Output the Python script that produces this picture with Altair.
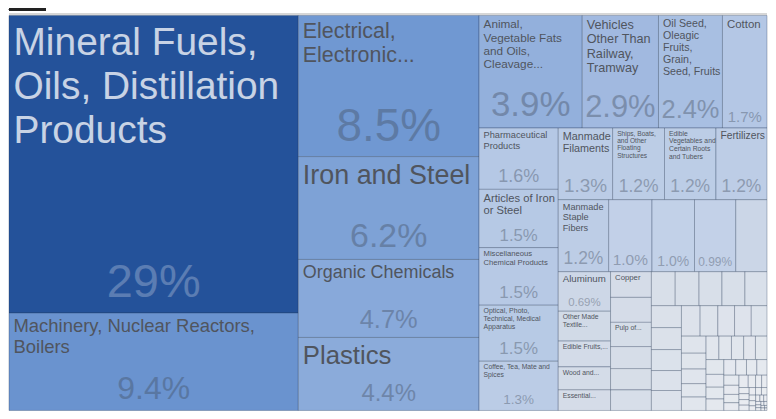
import altair as alt
import pandas as pd

# ---------------- data ----------------
NAMES = [
    "Mineral Fuels,\nOils, Distillation\nProducts",
    "Machinery, Nuclear Reactors,\nBoilers",
    "Electrical,\n Electronic...",
    "Iron and Steel",
    "Organic Chemicals",
    "Plastics",
    "Animal,\nVegetable Fats\nand Oils,\n Cleavage...",
    "Vehicles\nOther Than\nRailway,\nTramway",
    "Oil Seed,\nOleagic\nFruits,\nGrain,\nSeed, Fruits",
    "Cotton",
    "Pharmaceutical\nProducts",
    "Articles of Iron\nor Steel",
    "Miscellaneous\nChemical Products",
    "Optical, Photo,\nTechnical, Medical\nApparatus",
    "Coffee, Tea, Mate and\nSpices",
    "Manmade\nFilaments",
    "Ships, Boats,\nand Other\nFloating\nStructures",
    "Edible\nVegetables and\nCertain Roots\nand Tubers",
    "Fertilizers",
    "Manmade\nStaple\nFibers",
    "", "", "", "",
    "Aluminum",
    "Other Made\n Textile...",
    "Edible Fruits,...",
    "Wood and...",
    "Essential...",
    "Copper",
    "",
    "Pulp of...",
]

# share of total exports, percent
VALUES = [
    28.7, 9.4, 8.5, 6.2, 4.7, 4.4,
    3.87, 2.86, 2.4, 1.67,
    1.62, 1.54, 1.52, 1.48, 1.30,
    1.30, 1.24, 1.23, 1.22,
    1.21, 1.04, 1.02, 0.99, 0.75,
    0.69, 0.52, 0.45, 0.40, 0.36,
    0.35, 0.34, 0.33, 0.30, 0.29, 0.28,
    0.27, 0.27, 0.26, 0.26, 0.25,
    0.22, 0.22, 0.21, 0.20, 0.20,
    0.19, 0.18, 0.17, 0.17, 0.16,
    0.14, 0.13, 0.12, 0.11, 0.11,
    0.10, 0.098, 0.095, 0.092, 0.09,
    0.088, 0.076, 0.070, 0.068, 0.062,
    0.056, 0.054, 0.053, 0.051,
    0.046, 0.042, 0.039, 0.038,
    0.03, 0.025, 0.022, 0.021, 0.02, 0.019, 0.018, 0.016, 0.015, 0.014,
    0.012, 0.011, 0.01, 0.009, 0.008, 0.007, 0.006, 0.005, 0.005, 0.004,
    0.004, 0.003, 0.003, 0.002, 0.002,
]

# ---------------- label styles (font sizes; 0 = no label) ----------------
NAME_FS = [39, 18.5, 21.5, 27, 18, 25.8, 11.8, 12.7, 10.7, 11.5,
           9.3, 11.2, 7.7, 7, 6.8, 10.8, 6.6, 6.8, 10.3, 9.2,
           0, 0, 0, 0, 9.7, 6.8, 6.8, 6.8, 6.8, 7.8, 0, 6.8]
PCT_FS = [47, 32, 46, 34, 25.5, 24, 35, 31, 25.5, 15,
          18, 16.8, 17, 17, 13.5, 19, 17.5, 17.5, 17.5, 17.5,
          15.5, 14, 12, 0, 11.5]

W, H_TOTAL, TOP = 760, 403, 7  # plot extents (px units), treemap starts below header lines


def squarify(values, x0, y0, x1, y1, ratio=(1 + 5 ** 0.5) / 2):
    """d3.treemapSquarify layout of one level."""
    n = len(values)
    rects = [None] * n
    value = float(sum(values))
    i0 = i1 = 0
    while i0 < n:
        dx, dy = x1 - x0, y1 - y0
        sumv = values[i1]
        i1 += 1
        minv = maxv = sumv
        alpha = max(dy / dx, dx / dy) / (value * ratio)
        beta = sumv * sumv * alpha
        min_ratio = max(maxv / beta, beta / minv)
        while i1 < n:
            nv = values[i1]
            s2 = sumv + nv
            mn, mx = min(minv, nv), max(maxv, nv)
            beta = s2 * s2 * alpha
            nr = max(mx / beta, beta / mn)
            if nr > min_ratio:
                break
            sumv, minv, maxv, min_ratio = s2, mn, mx, nr
            i1 += 1
        if dx < dy:
            ny = y0 + dy * sumv / value
            xx = x0
            for i in range(i0, i1):
                w = (x1 - x0) * values[i] / sumv
                rects[i] = (xx, y0, xx + w, ny)
                xx += w
            y0 = ny
        else:
            nx = x0 + dx * sumv / value
            yy = y0
            for i in range(i0, i1):
                h = (y1 - y0) * values[i] / sumv
                rects[i] = (x0, yy, nx, yy + h)
                yy += h
            x0 = nx
        value -= sumv
        i0 = i1
    return rects


rects = squarify(VALUES, 0, TOP, W, H_TOTAL)
n = len(VALUES)
names = NAMES + [""] * (n - len(NAMES))
nfs = NAME_FS + [0] * (n - len(NAME_FS))
pfs = PCT_FS + [0] * (n - len(PCT_FS))

df = pd.DataFrame({
    "id": list(range(n)),
    "name": names,
    "v": VALUES,
    "x0": [r[0] for r in rects],
    "y0": [r[1] for r in rects],
    "x1": [r[2] for r in rects],
    "y1": [r[3] for r in rects],
    "nfs": nfs,
    "pfs": pfs,
})

xs = alt.Scale(domain=[0, W], nice=False, zero=False)
ys = alt.Scale(domain=[0, H_TOTAL], nice=False, zero=False, reverse=True)

color_scale = alt.Scale(
    domain=[0, 0.05, 0.1, 0.2, 0.3, 0.7, 1.0, 1.2, 1.6, 2.4, 2.9, 3.9, 4.5, 6.2, 8.5, 9.4, 28.7],
    range=["#eceef2", "#e5e9ef", "#e1e6ed", "#dce2eb", "#d6dde8", "#cdd7e7", "#c3d1e8",
           "#bdcde6", "#b5c8e5", "#a8bfe2", "#a0b9e0", "#93b0dc", "#89aada", "#7ea2d6",
           "#7098d2", "#6a93cf", "#24529a"],
    interpolate="rgb",
)

base = alt.Chart(df)

cells = base.mark_rect(stroke="#1f3350", strokeOpacity=0.3, strokeWidth=1).encode(
    x=alt.X("x0:Q", scale=xs, axis=None),
    x2="x1:Q",
    y=alt.Y("y0:Q", scale=ys, axis=None),
    y2="y1:Q",
    color=alt.Color("v:Q", scale=color_scale, legend=None),
    tooltip=["name:N", "v:Q"],
)

FONT = "Liberation Sans"

name_text = base.transform_filter("datum.nfs > 0").transform_calculate(
    tx="datum.x0 + 4.5", ty="datum.y0 + 1 + datum.nfs"
).mark_text(
    align="left", baseline="alphabetic", lineBreak="\n", font=FONT,
    lineHeight=alt.ExprRef("datum.nfs * 1.13"),
).encode(
    x=alt.X("tx:Q", scale=xs, axis=None),
    y=alt.Y("ty:Q", scale=ys, axis=None),
    text="name:N",
    size=alt.Size("nfs:Q", scale=None, legend=None),
    color=alt.condition("datum.v > 20", alt.value("#ffffff"), alt.value("#50555e")),
    opacity=alt.condition("datum.v > 20", alt.value(0.75), alt.value(1.0)),
)

pct_text = base.transform_filter("datum.pfs > 0").transform_calculate(
    tx="(datum.x0 + datum.x1) / 2",
    ty="datum.y1 - 2 - 0.3 * datum.pfs",
    label="format(datum.v, '.2r') + '%'",
).mark_text(align="center", baseline="alphabetic", font=FONT).encode(
    x=alt.X("tx:Q", scale=xs, axis=None),
    y=alt.Y("ty:Q", scale=ys, axis=None),
    text="label:N",
    size=alt.Size("pfs:Q", scale=None, legend=None),
    color=alt.condition("datum.v > 20", alt.value("#ffffff"), alt.value("#404a5a")),
    opacity=alt.condition("datum.v > 20", alt.value(0.25), alt.value(0.38)),
)

top_dark = alt.Chart(df).mark_rule(color="#222222", strokeWidth=2).encode(
    x=alt.value(0), x2=alt.value(37), y=alt.value(1)
)
top_gray = alt.Chart(df).mark_rule(color="#d6d6d6", strokeWidth=1.5).encode(
    x=alt.value(0), x2=alt.value(W), y=alt.value(5.5)
)

chart = alt.layer(cells, name_text, pct_text, top_dark, top_gray).properties(
    width=W, height=H_TOTAL, padding=0
).configure_view(stroke=None)

chart.save("out.html", embed_options={"renderer": "svg", "actions": False})
